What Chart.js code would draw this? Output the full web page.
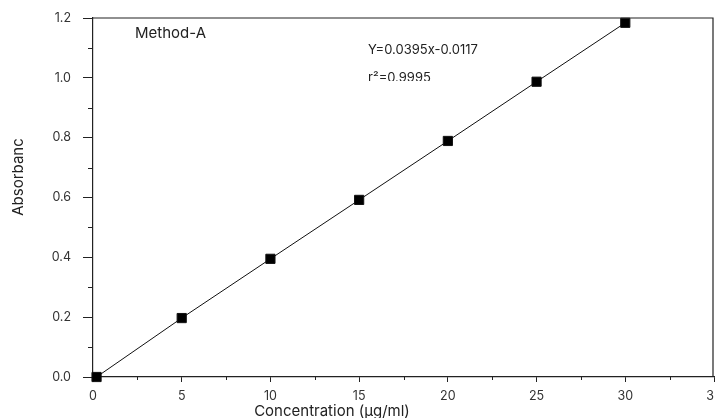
<!DOCTYPE html>
<html>
<head>
<meta charset="utf-8">
<script src="https://cdn.jsdelivr.net/npm/chart.js@4/dist/chart.umd.min.js"></script>
<style>
  html, body { margin: 0; padding: 0; background: #fff; }
  #wrap { width: 715px; height: 418px; }
</style>
</head>
<body>
<div id="wrap"><canvas id="calib"></canvas></div>
<script>
// values
const concentration = [0.2, 5, 10, 15, 20, 25, 30];
const absorbance = [0.0, 0.197, 0.395, 0.592, 0.789, 0.987, 1.184];
const xTicks = [0, 5, 10, 15, 20, 25, 30, 35];
const yTicks = [0.0, 0.2, 0.4, 0.6, 0.8, 1.0, 1.2];
const xMinor = [2.5, 7.5, 12.5, 17.5, 22.5, 27.5, 32.5];
const yMinor = [0.1, 0.3, 0.5, 0.7, 0.9, 1.1];
const notes = ['Method-A', 'Y=0.0395x-0.0117', 'r²=0.9995'];
const xTitle = 'Concentration (μg/ml)';
const yTitle = 'Absorbanc';

const FONT = 'Inter, "Noto Sans", sans-serif';
const TXT = '#333';

// box on top/right, minor ticks, axis titles, text notes
const frame = {
    id: 'frame',
    afterDraw(chart) {
        const { ctx, chartArea: a, scales: { x, y } } = chart;
        ctx.save();
        ctx.strokeStyle = '#222';
        ctx.lineWidth = 1.2;
        ctx.beginPath();
        ctx.moveTo(a.left, a.top);
        ctx.lineTo(a.right - 1, a.top);
        ctx.lineTo(a.right - 1, a.bottom);
        ctx.stroke();

        ctx.lineWidth = 1;
        ctx.beginPath();
        xMinor.forEach(v => {
            const px = Math.round(x.getPixelForValue(v)) + 0.5;
            ctx.moveTo(px, a.bottom);
            ctx.lineTo(px, a.bottom + 3);
        });
        yMinor.forEach(v => {
            const py = Math.round(y.getPixelForValue(v)) + 0.5;
            ctx.moveTo(a.left, py);
            ctx.lineTo(a.left - 5, py);
        });
        ctx.stroke();

        ctx.fillStyle = '#222';
        ctx.textBaseline = 'middle';
        ctx.textAlign = 'center';
        ctx.font = '15px ' + FONT;
        ctx.fillText(xTitle, 332, 411);
        ctx.save();
        ctx.translate(18, 177);
        ctx.rotate(-Math.PI / 2);
        ctx.fillText(yTitle, 0, 0);
        ctx.restore();

        ctx.textAlign = 'left';
        ctx.fillText(notes[0], 135, 33);
        ctx.font = '13px ' + FONT;
        ctx.fillText(notes[1], 368, 50);
        ctx.save();
        ctx.beginPath();
        ctx.rect(360, 60, 200, 21);
        ctx.clip();
        ctx.fillText(notes[2], 368, 78);
        ctx.restore();
        ctx.restore();
    }
};

new Chart(document.getElementById('calib'), {
    type: 'scatter',
    data: {
        datasets: [{
            data: concentration.map((c, i) => ({ x: c, y: absorbance[i] })),
            showLine: true,
            borderColor: '#111',
            borderWidth: 1,
            backgroundColor: '#000',
            pointStyle: 'rect',
            pointRadius: 6.5,
            pointHoverRadius: 6.5,
            clip: false
        }]
    },
    options: {
        responsive: true,
        maintainAspectRatio: false,
        animation: false,
        layout: { autoPadding: false, padding: { top: 18, right: 1, left: 0, bottom: 0 } },
        plugins: { legend: { display: false }, tooltip: { enabled: false } },
        scales: {
            x: {
                type: 'linear',
                min: 0, max: 35,
                afterBuildTicks: s => { s.ticks = xTicks.map(v => ({ value: v })); },
                afterFit: s => { s.height = 41; s.paddingLeft = 0; s.paddingRight = 0; },
                grid: { drawOnChartArea: false, tickLength: 5, tickColor: '#222', tickWidth: 1 },
                border: { color: '#222', width: 1.2 },
                ticks: { color: TXT, font: { family: FONT, size: 12.5 }, padding: 7, maxRotation: 0 }
            },
            y: {
                min: 0, max: 1.2,
                afterBuildTicks: s => { s.ticks = yTicks.map(v => ({ value: v })); },
                afterFit: s => { s.width = 93; s.paddingTop = 0; s.paddingBottom = 0; },
                grid: { drawOnChartArea: false, tickLength: 10, tickColor: '#222', tickWidth: 1 },
                border: { color: '#222', width: 1.2 },
                ticks: { color: TXT, font: { family: FONT, size: 12.5 }, padding: 12, callback: v => v.toFixed(1) }
            }
        }
    },
    plugins: [frame]
});
</script>
</body>
</html>
